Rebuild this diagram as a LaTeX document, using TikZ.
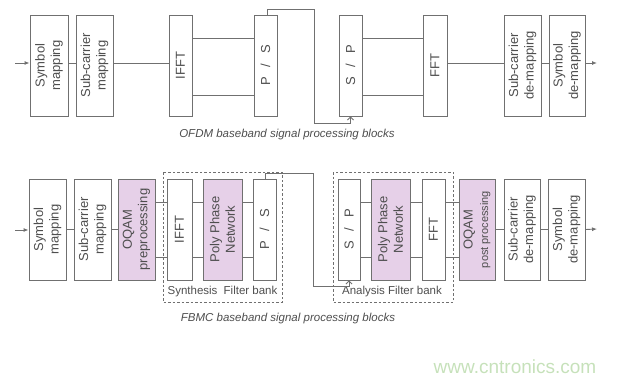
\documentclass[tikz,border=0pt]{standalone}
\usepackage{fontspec}
\setmainfont{Liberation Sans}
\usetikzlibrary{arrows.meta}
\definecolor{linegray}{RGB}{112,112,112}
\definecolor{textgray}{RGB}{78,78,78}
\definecolor{oqampink}{RGB}{230,208,232}
\definecolor{wwwgreen}{RGB}{198,225,186}
\begin{document}
\begin{tikzpicture}[x=1pt, y=-1pt,
    blk/.style={draw=linegray, fill=white, line width=0.9pt, minimum height=101, inner sep=0pt},
    oqamblk/.style={blk, fill=oqampink},
    lbl/.style={rotate=90, align=center, text=textgray, font=\fontsize{13}{15.5}\selectfont},
    link/.style={draw=linegray, line width=0.9pt},
    feed/.style={link, -{Latex[length=5pt,width=4pt]}},
    cross/.style={link, -{Straight Barb[length=3pt,width=6pt]}},
    fbank/.style={draw=linegray, line width=0.7pt, dash pattern=on 2.5pt off 2pt},
    fblbl/.style={text=textgray, font=\fontsize{11.5}{13}\selectfont},
    caption/.style={text=textgray, font=\itshape\fontsize{11.5}{13}\selectfont}]
    \def\ya{65.5}   % OFDM row centre
    \def\yb{229.5}  % FBMC row centre
    \useasboundingbox (0,0) rectangle (617,382);
    % OFDM blocks
    \node[blk, minimum width=38] (symA) at (49,\ya) {};
    \node[blk, minimum width=37] (subA) at (94.5,\ya) {};
    \node[blk, minimum width=23] (ifftA) at (180.5,\ya) {};
    \node[blk, minimum width=23] (psA) at (265.5,\ya) {};
    \node[blk, minimum width=23] (spA) at (350.5,\ya) {};
    \node[blk, minimum width=24] (fftA) at (435,\ya) {};
    \node[blk, minimum width=37] (subdA) at (522.5,\ya) {};
    \node[blk, minimum width=36] (symdA) at (567,\ya) {};
    \node[lbl] at (symA) {Symbol\\mapping};
    \node[lbl] at (subA) {Sub-carrier\\mapping};
    \node[lbl] at (ifftA) {IFFT};
    \node[lbl] at (psA) {P\hspace{10pt}/\hspace{10pt}S};
    \node[lbl] at (spA) {S\hspace{10pt}/\hspace{10pt}P};
    \node[lbl] at (fftA) {FFT};
    \node[lbl] at (subdA) {Sub-carrier\\de-mapping};
    \node[lbl] at (symdA) {Symbol\\de-mapping};
    % OFDM connections
    \coordinate (inA) at (15,63);
    \coordinate (outA) at (597,63);
    \draw[feed] (inA) -- (symA.west |- inA);
    \draw[link] ([yshift=2.5pt]symA.east) -- ([yshift=2.5pt]subA.west);
    \draw[link] ([yshift=2.5pt]subA.east) -- ([yshift=2.5pt]ifftA.west);
    \draw[link] ([yshift=27.5pt]ifftA.east) -- ([yshift=27.5pt]psA.west);
    \draw[link] ([yshift=-29.5pt]ifftA.east) -- ([yshift=-29.5pt]psA.west);
    \draw[cross] ([xshift=1.5pt]psA.north) |- (314,9) |- ([yshift=-7pt]spA.south) -- (spA.south);
    \draw[link] ([yshift=27.5pt]spA.east) -- ([yshift=27.5pt]fftA.west);
    \draw[link] ([yshift=-29.5pt]spA.east) -- ([yshift=-29.5pt]fftA.west);
    \draw[link] ([yshift=2.5pt]fftA.east) -- ([yshift=2.5pt]subdA.west);
    \draw[link] ([yshift=2.5pt]subdA.east) -- ([yshift=2.5pt]symdA.west);
    \draw[feed] ([yshift=2.5pt]symdA.east) -- (outA);
    \node[caption] (capA) at (287,135) {OFDM baseband signal processing blocks};
    % FBMC filter banks
    \draw[fbank] (163,172) rectangle (282,302);
    \draw[fbank] (333,172) rectangle (453,302);
    \node[fblbl] (synth) at (222.5,292) {Synthesis\hspace{3pt} Filter bank};
    \node[fblbl] (anal) at (392,292) {Analysis Filter bank};
    % FBMC blocks
    \node[blk, minimum width=37] (symB) at (47.5,\yb) {};
    \node[blk, minimum width=37] (subB) at (92.5,\yb) {};
    \node[oqamblk, minimum width=37] (oqamB) at (136.5,\yb) {};
    \node[blk, minimum width=25] (ifftB) at (179.5,\yb) {};
    \node[oqamblk, minimum width=39] (ppnS) at (222.5,\yb) {};
    \node[blk, minimum width=23] (psB) at (264.5,\yb) {};
    \node[blk, minimum width=22] (spB) at (349,\yb) {};
    \node[oqamblk, minimum width=39] (ppnR) at (390.5,\yb) {};
    \node[blk, minimum width=23] (fftB) at (433.5,\yb) {};
    \node[oqamblk, minimum width=36] (oqpB) at (477,\yb) {};
    \node[blk, minimum width=36] (subdB) at (522,\yb) {};
    \node[blk, minimum width=37] (symdB) at (566.5,\yb) {};
    \node[lbl] at (symB) {Symbol\\mapping};
    \node[lbl] at (subB) {Sub-carrier\\mapping};
    \node[lbl] at (oqamB) {OQAM\\preprocessing};
    \node[lbl] at (ifftB) {IFFT};
    \node[lbl] at (ppnS) {Poly Phase\\Network};
    \node[lbl] at (psB) {P\hspace{10pt}/\hspace{10pt}S};
    \node[lbl] at (spB) {S\hspace{10pt}/\hspace{10pt}P};
    \node[lbl] at (ppnR) {Poly Phase\\Network};
    \node[lbl] at (fftB) {FFT};
    \node[lbl] at (oqpB) {OQAM\\{\fontsize{11}{13}\selectfont post processing}};
    \node[lbl] at (subdB) {Sub-carrier\\de-mapping};
    \node[lbl] at (symdB) {Symbol\\de-mapping};
    % FBMC connections
    \coordinate (inB) at (15,230);
    \coordinate (outB) at (597,229);
    \draw[feed] (inB) -- (symB.west |- inB);
    \draw[link] (symB.east) -- (subB.west);
    \draw[link] (subB.east) -- (oqamB.west);
    \foreach \dy in {27.5,-28} {
        \draw[link] ([yshift=\dy pt]oqamB.east) -- ([yshift=\dy pt]ifftB.west);
        \draw[link] ([yshift=\dy pt]ifftB.east) -- ([yshift=\dy pt]ppnS.west);
        \draw[link] ([yshift=\dy pt]ppnS.east) -- ([yshift=\dy pt]psB.west);
        \draw[link] ([yshift=\dy pt]spB.east) -- ([yshift=\dy pt]ppnR.west);
        \draw[link] ([yshift=\dy pt]ppnR.east) -- ([yshift=\dy pt]fftB.west);
        \draw[link] ([yshift=\dy pt]fftB.east) -- ([yshift=\dy pt]oqpB.west);
    }
    \draw[cross] ([xshift=0.5pt]psB.north) |- (313,173) |- ([yshift=-6pt]spB.south) -- (spB.south);
    \draw[link] (oqpB.east) -- (subdB.west);
    \draw[link] (subdB.east) -- (symdB.west);
    \draw[feed] (symdB.east) -- (outB);
    \node[caption] (capB) at (288,319) {FBMC baseband signal processing blocks};
    % watermark
    \node[text=wwwgreen, font=\fontsize{19}{21}\selectfont] (www) at (515,367) {www.cntronics.com};
\end{tikzpicture}
\end{document}
